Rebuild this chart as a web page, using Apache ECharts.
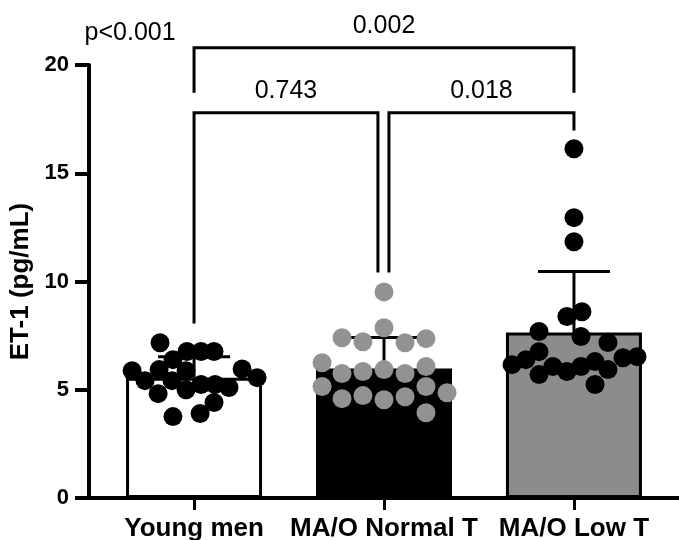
<!DOCTYPE html>
<html>
<head>
<meta charset="utf-8">
<title>ET-1</title>
<script src="https://cdn.jsdelivr.net/npm/echarts@6/dist/echarts.min.js"></script>
<style>
  html, body { margin: 0; padding: 0; background: #fff; }
  #et1 { width: 679px; height: 540px; }
</style>
</head>
<body>
<div id="et1"></div>
<script>
  var FONT = 'Liberation Sans, Arial, Helvetica, sans-serif';

  // groups
  var categories = ['Young men', 'MA/O Normal T', 'MA/O Low T'];
  var barMean = [5.56, 5.98, 7.64];
  var barSdTop = [6.53, 7.41, 10.46];
  var barColor = ['#ffffff', '#000000', '#8c8c8c'];

  // individual points (x = group index + jitter)
  var youngX = [-0.179, -0.037, 0.037, 0.105, -0.111, -0.326, -0.184, -0.042, 0.253, 0.332,
                -0.258, -0.116, 0.037, 0.111, 0.184, -0.189, -0.042, 0.105, 0.032, -0.111];
  var youngY = [7.17, 6.77, 6.77, 6.77, 6.39, 5.88, 5.93, 5.88, 5.96, 5.56,
                5.42, 5.42, 5.24, 5.24, 5.10, 4.82, 5.00, 4.41, 3.90, 3.76];

  var normalX = [1.0, 1.0, 0.779, 0.889, 1.111, 1.221, 0.674, 0.779, 0.889, 1.0,
                 1.111, 1.221, 0.674, 0.779, 0.889, 1.0, 1.111, 1.221, 1.332, 1.221];
  var normalY = [9.52, 7.86, 7.40, 7.22, 7.17, 7.36, 6.25, 5.75, 5.84, 5.93,
                 5.75, 6.07, 5.15, 4.59, 4.73, 4.54, 4.68, 5.15, 4.86, 3.94];

  var lowX = [2.0, 2.0, 2.0, 2.042, 1.963, 1.816, 2.037, 2.179, 1.816, 1.674,
              1.747, 2.258, 2.332, 1.816, 1.889, 1.963, 2.037, 2.111, 2.179, 2.111];
  var lowY = [16.13, 12.95, 11.84, 8.60, 8.38, 7.69, 7.46, 7.18, 6.76, 6.16,
              6.39, 6.48, 6.53, 5.70, 6.07, 5.84, 6.07, 6.30, 5.93, 5.24];

  // comparison brackets: from, to, level, left leg end, right leg end
  var bracketFrom = [0, 0, 1.026];
  var bracketTo = [2, 0.968, 2];
  var bracketLevel = [20.8, 17.8, 17.8];
  var bracketLegL = [18.72, 8.06, 10.41];
  var bracketLegR = [18.72, 10.41, 16.97];
  var bracketText = ['0.002', '0.743', '0.018'];

  var overallP = 'p<0.001';
  var overallPos = [-0.347, 21.49];

  var yTicks = [0, 5, 10, 15, 20];

  function zip(xs, ys) {
    return xs.map(function (x, i) { return [x, ys[i]]; });
  }

  var barData = categories.map(function (c, i) {
    return { value: [i, barMean[i]], itemStyle: { color: barColor[i] } };
  });
  var errData = categories.map(function (c, i) {
    return [i, barMean[i], barSdTop[i]];
  });
  var bracketData = bracketText.map(function (t, i) {
    return [bracketFrom[i], bracketTo[i], bracketLevel[i], bracketLegL[i], bracketLegR[i]];
  });

  var option = {
    animation: false,
    backgroundColor: '#fff',
    grid: { left: 89, right: 0, top: 65, bottom: 42, outerBoundsMode: 'none', containLabel: false },
    xAxis: {
      type: 'value',
      min: -0.553,
      max: 2.553,
      splitLine: { show: false },
      axisLine: { lineStyle: { color: '#000', width: 4 } },
      axisTick: { customValues: [0, 1, 2], length: 12, lineStyle: { color: '#000', width: 3 } },
      axisLabel: {
        customValues: [0, 1, 2],
        margin: 18,
        color: '#000',
        fontFamily: FONT,
        fontWeight: 'bold',
        fontSize: 26,
        formatter: function (v) { return categories[Math.round(v)]; }
      }
    },
    yAxis: {
      type: 'value',
      min: yTicks[0],
      max: yTicks[yTicks.length - 1],
      interval: 5,
      name: 'ET-1 (pg/mL)',
      nameLocation: 'middle',
      nameGap: 55,
      nameTextStyle: { color: '#000', fontFamily: FONT, fontWeight: 'bold', fontSize: 26 },
      splitLine: { show: false },
      axisLine: { onZero: false, lineStyle: { color: '#000', width: 4 } },
      axisTick: { length: 14, lineStyle: { color: '#000', width: 4 } },
      axisLabel: { margin: 20, color: '#000', fontFamily: FONT, fontWeight: 'bold', fontSize: 22 }
    },
    series: [
      {
        type: 'bar',
        data: barData,
        barWidth: 136,
        itemStyle: { borderColor: '#000', borderWidth: 3 },
        z: 1
      },
      {
        // upper SD whiskers
        type: 'custom',
        data: errData,
        z: 2,
        renderItem: function (params, api) {
          var p0 = api.coord([api.value(0), api.value(1)]);
          var p1 = api.coord([api.value(0), api.value(2)]);
          var st = { stroke: '#000', lineWidth: 3 };
          return {
            type: 'group',
            children: [
              { type: 'line', shape: { x1: p0[0], y1: p0[1], x2: p1[0], y2: p1[1] }, style: st },
              { type: 'line', shape: { x1: p1[0] - 36, y1: p1[1], x2: p1[0] + 36, y2: p1[1] }, style: st }
            ]
          };
        }
      },
      {
        type: 'scatter',
        data: zip(youngX, youngY),
        symbolSize: 19,
        itemStyle: { color: '#000', opacity: 1 },
        z: 3
      },
      {
        type: 'scatter',
        data: zip(normalX, normalY),
        symbolSize: 19,
        itemStyle: { color: '#929292', opacity: 1 },
        z: 3
      },
      {
        type: 'scatter',
        data: zip(lowX, lowY),
        symbolSize: 19,
        itemStyle: { color: '#000', opacity: 1 },
        z: 3
      },
      {
        // significance brackets
        type: 'custom',
        data: bracketData,
        clip: false,
        z: 4,
        renderItem: function (params, api) {
          var a = api.coord([api.value(0), api.value(3)]);
          var b = api.coord([api.value(0), api.value(2)]);
          var c = api.coord([api.value(1), api.value(2)]);
          var d = api.coord([api.value(1), api.value(4)]);
          return {
            type: 'group',
            children: [
              {
                type: 'polyline',
                shape: { points: [a, b, c, d] },
                style: { stroke: '#000', lineWidth: 3, fill: null }
              },
              {
                type: 'text',
                x: (b[0] + c[0]) / 2,
                y: b[1] - 9,
                style: {
                  text: bracketText[params.dataIndex],
                  fill: '#000',
                  fontFamily: FONT,
                  fontSize: 25,
                  align: 'center',
                  verticalAlign: 'bottom'
                }
              }
            ]
          };
        }
      },
      {
        // overall test result
        type: 'custom',
        data: [overallPos],
        clip: false,
        silent: true,
        renderItem: function (params, api) {
          var p = api.coord([api.value(0), api.value(1)]);
          return {
            type: 'text',
            x: p[0] + 2,
            y: p[1],
            style: {
              text: overallP,
              fill: '#000',
              fontFamily: FONT,
              fontSize: 25,
              align: 'center',
              verticalAlign: 'middle'
            }
          };
        }
      }
    ]
  };

  var myChart = echarts.init(document.getElementById('et1'));
  myChart.setOption(option);
</script>
</body>
</html>
